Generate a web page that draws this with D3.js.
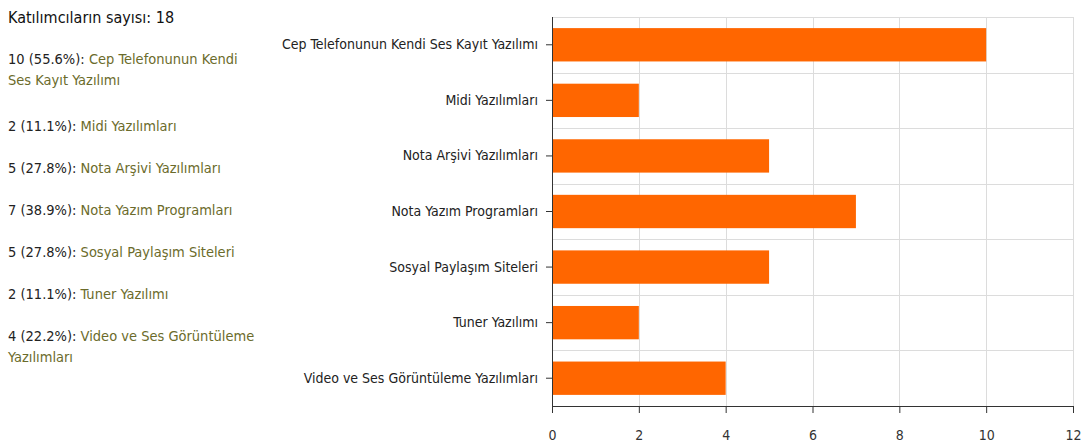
<!DOCTYPE html>
<html><head><meta charset="utf-8">
<script src="https://cdn.jsdelivr.net/npm/d3@7"></script>
<style>
html,body{margin:0;padding:0;background:#fff;}
body{width:1083px;height:445px;position:relative;overflow:hidden;font-family:"DejaVu Sans Condensed","DejaVu Sans",sans-serif;}
#legend{position:absolute;left:8px;top:8px;width:252px;}
#legend .title{font-size:16px;line-height:20px;color:#111;margin-bottom:21px;}
#legend .item{font-size:14.5px;line-height:21px;color:#222;margin-bottom:21px;}
#legend .item.first{margin-bottom:25px;}
#legend .item .lab{color:#6b6b2b;}
svg{position:absolute;left:0;top:0;}
</style></head>
<body>
<div id="legend"></div>
<svg id="chart" width="1083" height="445"></svg>
<script>
const categories = ["Cep Telefonunun Kendi Ses Kayıt Yazılımı","Midi Yazılımları","Nota Arşivi Yazılımları","Nota Yazım Programları","Sosyal Paylaşım Siteleri","Tuner Yazılımı","Video ve Ses Görüntüleme Yazılımları"];
const values = [10,2,5,7,5,2,4];
const percents = ["55.6%","11.1%","27.8%","38.9%","27.8%","11.1%","22.2%"];
const xTicks = [0,2,4,6,8,10,12];
const participants = 18;

(function(){
const legend = d3.select("#legend");
legend.append("div").attr("class","title").text("Katılımcıların sayısı: " + participants);
categories.forEach((c,i)=>{
  const d = legend.append("div").attr("class", i===0 ? "item first" : "item");
  d.append("span").text(values[i] + " (" + percents[i] + "): ");
  d.append("span").attr("class","lab").text(c);
});

const svg = d3.select("#chart");
const pL = 552, pR = 1073, pT = 17, pB = 406;
const x = d3.scaleLinear().domain([0,12]).range([pL,pR]);
const y = d3.scaleBand().domain(categories).range([pT,pB]).paddingInner(0.4).paddingOuter(0.2);

svg.append("g").selectAll("line").data(xTicks.slice(1)).join("line")
  .attr("x1",d=>Math.round(x(d))+0.5).attr("x2",d=>Math.round(x(d))+0.5).attr("y1",pT).attr("y2",pB)
  .attr("stroke","#dcdcdc").attr("stroke-width",1);
const step = y.step();
svg.append("g").selectAll("line").data(d3.range(0,categories.length)).join("line")
  .attr("x1",pL).attr("x2",pR).attr("y1",d=>Math.round(pT+d*step)+0.5).attr("y2",d=>Math.round(pT+d*step)+0.5)
  .attr("stroke","#dcdcdc").attr("stroke-width",1);

svg.append("g").selectAll("rect").data(categories).join("rect")
  .attr("x",x(0)).attr("y",d=>y(d)).attr("width",(d,i)=>x(values[i])-x(0)).attr("height",y.bandwidth())
  .attr("fill","#ff6600");

const xa = svg.append("g").attr("transform",`translate(0,${pB})`)
  .call(d3.axisBottom(x).tickValues(xTicks).tickSize(7).tickPadding(17).tickFormat(d3.format("d")));
xa.select(".domain").attr("stroke","#333").attr("d",`M${pL},0.5H${pR}`);
xa.selectAll(".tick line").attr("stroke","#333");
xa.selectAll("text").attr("font-size","14px").attr("fill","#333").attr("font-family","DejaVu Sans Condensed");

const ya = svg.append("g").attr("transform",`translate(${pL},0)`)
  .call(d3.axisLeft(y).tickSize(6).tickPadding(8));
ya.select(".domain").attr("stroke","#333").attr("d",`M0.5,${pT}V${pB}`);
ya.selectAll(".tick line").attr("stroke","#333");
ya.selectAll("text").attr("font-size","14px").attr("fill","#222").attr("font-family","DejaVu Sans Condensed");
})();
</script>
</body></html>
